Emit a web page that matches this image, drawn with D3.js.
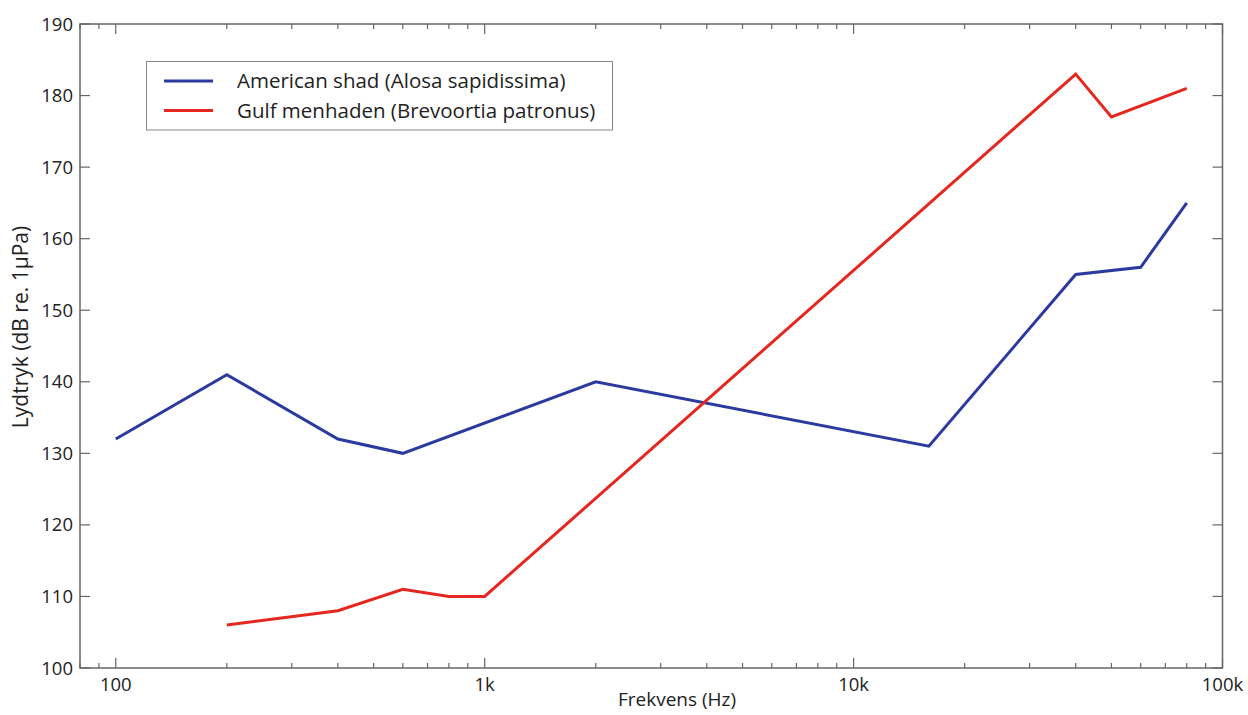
<!DOCTYPE html>
<html>
<head>
<meta charset="utf-8">
<script src="https://cdn.jsdelivr.net/npm/d3@7"></script>
<style>
  html, body { margin: 0; padding: 0; background: #fff; }
  svg { display: block; font-family: "Open Sans", "Noto Sans", sans-serif; }
</style>
</head>
<body>
<svg id="chart" width="1248" height="715"></svg>
<script>
// Hearing thresholds of two clupeid species
const shadFreq   = [100, 200, 400, 600, 2000, 16000, 40000, 60000, 80000];
const shadLevel  = [132, 141, 132, 130, 140, 131, 155, 156, 165];
const menhadenFreq  = [200, 400, 600, 800, 1000, 40000, 50000, 80000];
const menhadenLevel = [106, 108, 111, 110, 110, 183, 177, 181];

const seriesNames  = ["American shad (Alosa sapidissima)", "Gulf menhaden (Brevoortia patronus)"];
const seriesColors = ["#2b3a9f", "#e5281f"];

const xTickValues = [100, 1000, 10000, 100000];
const xTickLabels = ["100", "1k", "10k", "100k"];
const yTickValues = [100, 110, 120, 130, 140, 150, 160, 170, 180, 190];

const xLabel = "Frekvens (Hz)";
const yLabel = "Lydtryk (dB re. 1µPa)";

(function draw() {
  const svg = d3.select("#chart");
  const pLeft = 80, pRight = 1222.5, pTop = 24, pBottom = 668;

  const x = d3.scaleLog().domain([80, 100000]).range([pLeft, pRight]);
  const y = d3.scaleLinear().domain([100, 190]).range([pBottom, pTop]);

  const axisColor = "#666";
  const majorLen = 10, minorLen = 5;

  // minor x ticks (2..9 in each decade)
  const minorX = [];
  for (let d = 10; d <= 10000; d *= 10) {
    for (let k = 2; k <= 9; k++) {
      const v = k * d;
      if (v >= 80 && v <= 100000 && !xTickValues.includes(v)) minorX.push(v);
    }
  }

  const g = svg.append("g");

  // inward ticks on all four sides
  const tickG = g.append("g").attr("stroke", axisColor).attr("stroke-width", 1.2);
  minorX.forEach(v => {
    tickG.append("line").attr("x1", x(v)).attr("x2", x(v)).attr("y1", pBottom).attr("y2", pBottom - minorLen);
    tickG.append("line").attr("x1", x(v)).attr("x2", x(v)).attr("y1", pTop).attr("y2", pTop + minorLen);
  });
  xTickValues.forEach(v => {
    tickG.append("line").attr("x1", x(v)).attr("x2", x(v)).attr("y1", pBottom).attr("y2", pBottom - majorLen);
    tickG.append("line").attr("x1", x(v)).attr("x2", x(v)).attr("y1", pTop).attr("y2", pTop + majorLen);
  });
  yTickValues.forEach(v => {
    tickG.append("line").attr("x1", pLeft).attr("x2", pLeft + majorLen).attr("y1", y(v)).attr("y2", y(v));
    tickG.append("line").attr("x1", pRight).attr("x2", pRight - majorLen).attr("y1", y(v)).attr("y2", y(v));
  });

  // tick labels
  const labG = g.append("g").attr("font-size", 18.5).attr("fill", "#222");
  xTickValues.forEach((v, i) => {
    labG.append("text").attr("x", x(v)).attr("y", pBottom + 22.5)
      .attr("text-anchor", "middle").text(xTickLabels[i]);
  });
  yTickValues.forEach(v => {
    labG.append("text").attr("x", pLeft - 7).attr("y", y(v) + 6.5)
      .attr("text-anchor", "end").text(v);
  });

  // axis titles
  g.append("text").attr("x", 677).attr("y", 706).attr("text-anchor", "middle")
    .attr("font-size", 19).attr("fill", "#222").text(xLabel);
  g.append("text").attr("transform", "translate(28,327) rotate(-90)")
    .attr("text-anchor", "middle").attr("font-size", 21).attr("fill", "#222").text(yLabel);

  // data lines
  const line = d3.line().x(d => x(d[0])).y(d => y(d[1]));
  const shad = shadFreq.map((f, i) => [f, shadLevel[i]]);
  const menhaden = menhadenFreq.map((f, i) => [f, menhadenLevel[i]]);
  [shad, menhaden].forEach((data, i) => {
    g.append("path").datum(data).attr("d", line)
      .attr("fill", "none").attr("stroke", seriesColors[i])
      .attr("stroke-width", 3).attr("stroke-linejoin", "miter");
  });

  // frame
  g.append("rect").attr("x", pLeft).attr("y", pTop)
    .attr("width", pRight - pLeft).attr("height", pBottom - pTop)
    .attr("fill", "none").attr("stroke", axisColor).attr("stroke-width", 1.5);

  // legend
  const leg = g.append("g");
  leg.append("rect").attr("x", 146.5).attr("y", 61.5).attr("width", 466).attr("height", 68.5)
    .attr("fill", "#fff").attr("stroke", "#888").attr("stroke-width", 1);
  seriesNames.forEach((name, i) => {
    const ly = 81 + i * 29.5;
    leg.append("line").attr("x1", 164).attr("x2", 213).attr("y1", ly).attr("y2", ly)
      .attr("stroke", seriesColors[i]).attr("stroke-width", 3);
    leg.append("text").attr("x", 237).attr("y", ly + 7).attr("font-size", 20.5)
      .attr("fill", "#222").text(name);
  });
})();
</script>
</body>
</html>
